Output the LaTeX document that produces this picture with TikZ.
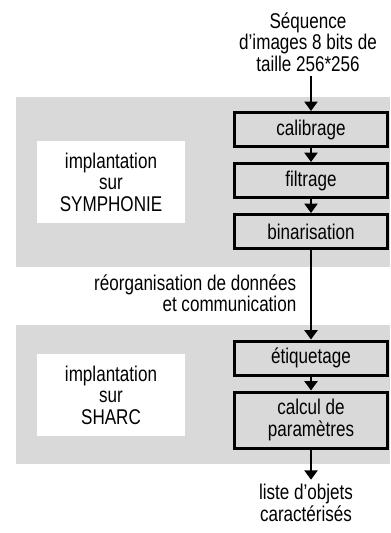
\documentclass[tikz,border=0pt]{standalone}
\usepackage{fontspec}
\setmainfont{Liberation Sans}[FakeStretch=0.8]
\usetikzlibrary{positioning, arrows.meta}

\definecolor{panelgray}{RGB}{217,217,217}
\newcommand{\diagfont}{\fontsize{16}{16.1}\selectfont}

\begin{document}
\begin{tikzpicture}[
        x=0.75pt, y=-0.75pt,
        node distance=10.5pt,
        stage/.style={rectangle, draw, line width=2.25pt, fill=panelgray, minimum width=114.75pt, minimum height=25.5pt, inner sep=3pt, align=center, font=\diagfont},
        host/.style={rectangle, fill=white, minimum width=111pt, minimum height=61.5pt, align=center, font=\diagfont},
        note/.style={align=center, font=\diagfont},
        arrow/.style={-{Triangle[width=9.75pt,length=7pt]}, line width=1.5pt}
    ]

    \useasboundingbox (0,0) rectangle (390,533);

    % the two implementation areas
    \fill[panelgray] (16,97) rectangle (390,267);
    \fill[panelgray] (16,325) rectangle (390,464);

    \node[note] (sequence) at (308,42) {Séquence\\d’images 8 bits de\\taille 256*256};

    \node[stage] (calibrage) at (311,129.5) {calibrage};
    \node[stage, below=of calibrage] (filtrage) {filtrage};
    \node[stage, below=of filtrage] (binarisation) {binarisation};

    \node[host] (symphonie) at (111,182) {implantation\\sur\\SYMPHONIE};

    \node[note, align=right, fill=white, anchor=east] (reorg) at (301,293) {réorganisation de données\\et communication};

    \node[stage] (etiquetage) at (311,358) {étiquetage};
    \node[stage, below=of etiquetage, minimum height=42pt] (calcul) {calcul de\\paramètres};

    \node[host] (sharc) at (111,395) {implantation\\sur\\SHARC};

    \node[note] (objets) at (306,503) {liste d’objets\\caractérisés};

    \draw[arrow] (calibrage |- sequence.south) -- (calibrage);
    \draw[arrow] (calibrage) -- (filtrage);
    \draw[arrow] (filtrage) -- (binarisation);
    \draw[arrow] (binarisation) -- (etiquetage);
    \draw[arrow] (etiquetage) -- (calcul);
    \draw[arrow] (calcul) -- (calcul |- objets.north);

\end{tikzpicture}
\end{document}
